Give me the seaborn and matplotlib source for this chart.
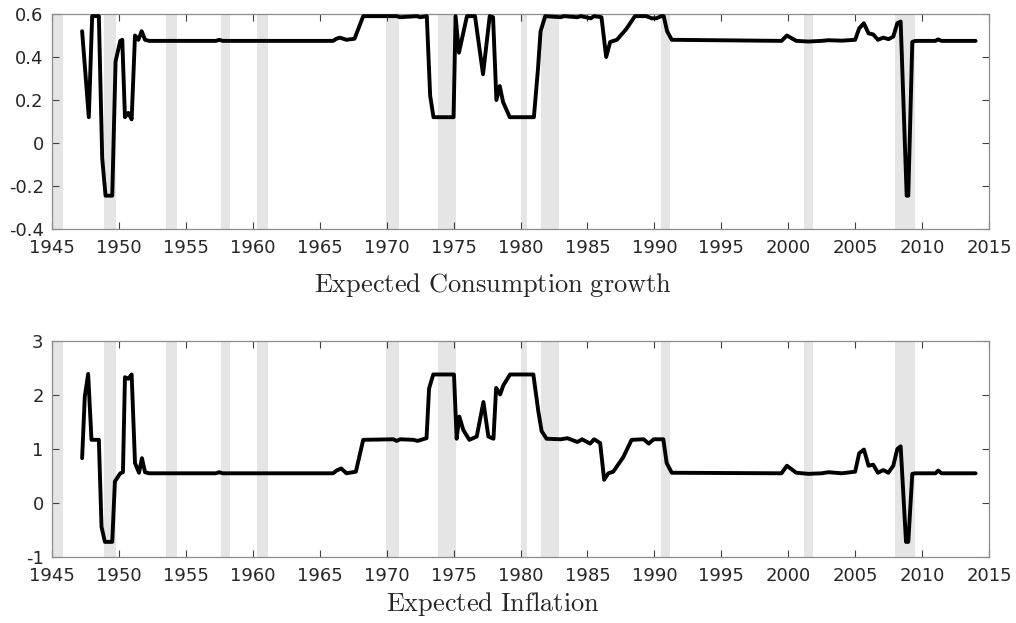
import matplotlib
matplotlib.use("Agg")
import matplotlib.pyplot as plt
import seaborn as sns
import pandas as pd

# NBER recession periods (decimal years)
rec_start = [1945.1, 1948.9, 1953.5, 1957.6, 1960.3, 1969.95, 1973.85, 1980.0, 1981.5, 1990.5, 2001.2, 2007.95]
rec_end   = [1945.8, 1949.8, 1954.35, 1958.3, 1961.1, 1970.9, 1975.2, 1980.5, 1982.85, 1991.2, 2001.85, 2009.45]

# Expected consumption growth
cons_date = [1947.25, 1947.75, 1948.0, 1948.5, 1948.75, 1949.0, 1949.5, 1949.75, 1950.1, 1950.25,
             1950.45, 1950.7, 1950.95, 1951.2, 1951.45, 1951.7, 1951.95, 1952.25, 1957.25, 1957.5,
             1957.75, 1966.0, 1966.25, 1966.5, 1967.0, 1967.6, 1968.25, 1970.75, 1971.0, 1972.25,
             1972.5, 1973.0, 1973.25, 1973.5, 1975.0, 1975.15, 1975.4, 1976.0, 1976.6, 1977.2,
             1977.7, 1977.95, 1978.2, 1978.45, 1978.7, 1979.2, 1981.0, 1981.3, 1981.5, 1981.85,
             1983.0, 1983.25, 1984.25, 1984.5, 1985.25, 1985.5, 1986.05, 1986.4, 1986.7, 1987.2,
             1987.9, 1988.55, 1989.4, 1989.8, 1990.15, 1990.5, 1990.7, 1990.95, 1991.3, 1999.5,
             1999.9, 2000.6, 2001.5, 2002.5, 2003.0, 2004.0, 2005.0, 2005.3, 2005.65, 2006.0,
             2006.35, 2006.7, 2007.1, 2007.5, 2007.85, 2008.15, 2008.4, 2008.85, 2008.97, 2009.27,
             2009.5, 2011.0, 2011.2, 2011.45, 2014.0]
cons_val  = [0.52, 0.12, 0.59, 0.59, -0.07, -0.245, -0.245, 0.38, 0.475, 0.48,
             0.12, 0.14, 0.11, 0.50, 0.48, 0.52, 0.48, 0.475, 0.475, 0.48,
             0.475, 0.475, 0.485, 0.49, 0.48, 0.485, 0.59, 0.59, 0.585, 0.59,
             0.585, 0.59, 0.22, 0.12, 0.12, 0.59, 0.42, 0.59, 0.59, 0.32,
             0.59, 0.585, 0.20, 0.265, 0.19, 0.12, 0.12, 0.34, 0.52, 0.59,
             0.585, 0.59, 0.585, 0.59, 0.58, 0.59, 0.585, 0.40, 0.47, 0.48,
             0.53, 0.59, 0.59, 0.58, 0.58, 0.59, 0.59, 0.52, 0.48, 0.475,
             0.50, 0.475, 0.472, 0.475, 0.478, 0.476, 0.48, 0.533, 0.557, 0.51,
             0.505, 0.48, 0.49, 0.483, 0.495, 0.557, 0.565, -0.245, -0.245, 0.47,
             0.475, 0.475, 0.482, 0.475, 0.475]

# Expected inflation
infl_date = [1947.25, 1947.45, 1947.7, 1947.95, 1948.5, 1948.7, 1948.95, 1949.5, 1949.7, 1950.1,
             1950.3, 1950.45, 1950.7, 1950.95, 1951.2, 1951.5, 1951.72, 1951.95, 1952.25, 1957.25,
             1957.5, 1957.75, 1966.0, 1966.25, 1966.6, 1967.0, 1967.7, 1968.25, 1970.5, 1970.75,
             1971.0, 1972.0, 1972.3, 1972.98, 1973.17, 1973.48, 1975.03, 1975.23, 1975.43, 1975.73,
             1976.18, 1976.73, 1977.23, 1977.6, 1977.98, 1978.18, 1978.48, 1978.72, 1979.22, 1980.96,
             1981.33, 1981.58, 1981.95, 1983.0, 1983.5, 1984.25, 1984.6, 1985.2, 1985.5, 1985.95,
             1986.25, 1986.56, 1986.93, 1987.68, 1988.3, 1989.2, 1989.58, 1989.95, 1990.67, 1990.92,
             1991.3, 1999.5, 1999.9, 2000.6, 2001.5, 2002.5, 2003.0, 2004.0, 2005.0, 2005.3,
             2005.66, 2006.0, 2006.35, 2006.7, 2007.1, 2007.48, 2007.85, 2008.15, 2008.4, 2008.8,
             2008.97, 2009.27, 2009.5, 2011.0, 2011.2, 2011.45, 2014.0]
infl_val  = [0.83, 1.97, 2.39, 1.17, 1.17, -0.44, -0.72, -0.72, 0.40, 0.55,
             0.57, 2.33, 2.30, 2.38, 0.74, 0.56, 0.83, 0.57, 0.55, 0.55,
             0.57, 0.55, 0.55, 0.60, 0.64, 0.55, 0.58, 1.17, 1.18, 1.15,
             1.18, 1.17, 1.15, 1.20, 2.12, 2.38, 2.38, 1.19, 1.60, 1.35,
             1.17, 1.23, 1.87, 1.23, 1.19, 2.13, 2.01, 2.18, 2.38, 2.38,
             1.70, 1.33, 1.19, 1.18, 1.20, 1.13, 1.18, 1.10, 1.18, 1.11,
             0.43, 0.55, 0.58, 0.85, 1.17, 1.18, 1.10, 1.18, 1.18, 0.74,
             0.56, 0.55, 0.69, 0.56, 0.54, 0.55, 0.57, 0.55, 0.58, 0.92,
             0.99, 0.69, 0.71, 0.56, 0.61, 0.56, 0.69, 1.00, 1.05, -0.72,
             -0.72, 0.54, 0.55, 0.55, 0.60, 0.55, 0.55]

x_ticks = list(range(1945, 2016, 5))
cons_ticks = [-0.4, -0.2, 0, 0.2, 0.4, 0.6]
cons_ticklabels = ["-0.4", "-0.2", "0", "0.2", "0.4", "0.6"]
infl_ticks = [-1, 0, 1, 2, 3]
infl_ticklabels = ["-1", "0", "1", "2", "3"]

sns.set_style("white")
plt.rcParams["font.family"] = ["DejaVu Sans"]
plt.rcParams["mathtext.fontset"] = "cm"

fig = plt.figure(figsize=(10.16, 6.23), dpi=100)
ax_top = fig.add_axes([52 / 1016, 1 - 229 / 623, 937 / 1016, 215 / 623])
ax_bot = fig.add_axes([52 / 1016, 1 - 557 / 623, 937 / 1016, 216 / 623])

cons_df = pd.DataFrame({"date": cons_date, "value": cons_val})
infl_df = pd.DataFrame({"date": infl_date, "value": infl_val})

panels = [
    (ax_top, cons_df, (-0.4, 0.6), cons_ticks, cons_ticklabels),
    (ax_bot, infl_df, (-1, 3), infl_ticks, infl_ticklabels),
]

for ax, df, ylim, yt, ytl in panels:
    for s, e in zip(rec_start, rec_end):
        ax.axvspan(s, e, color="#e5e5e5", lw=0, zorder=0)
    sns.lineplot(data=df, x="date", y="value", ax=ax, color="black", lw=2.8,
                 sort=False, estimator=None, zorder=3)
    ax.set_xlim(1945, 2015)
    ax.set_ylim(*ylim)
    ax.set_xticks(x_ticks)
    ax.set_xticklabels([str(t) for t in x_ticks])
    ax.set_yticks(yt)
    ax.set_yticklabels(ytl)
    ax.set_xlabel("")
    ax.set_ylabel("")
    for sp in ax.spines.values():
        sp.set_visible(True)
        sp.set_color("#8c8c8c")
        sp.set_linewidth(0.9)
    ax.tick_params(direction="in", length=5, width=0.8, color="#404040",
                   labelsize=13, labelcolor="#262626", top=True, right=True,
                   bottom=True, left=True)
    ax.tick_params(axis="x", pad=7)
    ax.tick_params(axis="y", pad=6)

fig.text(493 / 1016, 1 - 285 / 623, r"$\mathrm{Expected\ Consumption\ growth}$",
         ha="center", va="center", fontsize=19)
fig.text(493 / 1016, 1 - 604 / 623, r"$\mathrm{Expected\ Inflation}$",
         ha="center", va="center", fontsize=19)

fig.savefig("out.png", dpi=100)
